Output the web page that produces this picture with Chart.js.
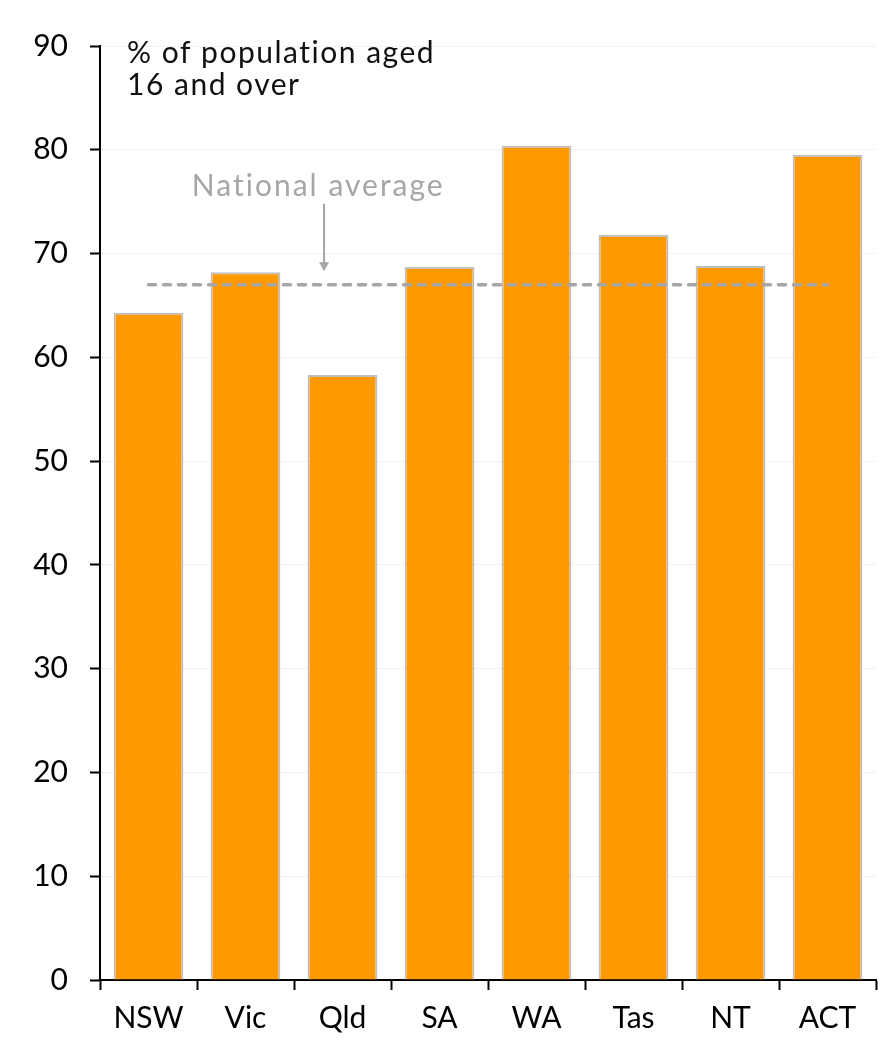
<!DOCTYPE html>
<html>
<head>
<meta charset="utf-8">
<script src="https://cdn.jsdelivr.net/npm/chart.js@4.4.0/dist/chart.umd.min.js"></script>
<style>
  body { margin: 0; background: #fff; }
  #wrap { width: 886px; height: 1048px; }
</style>
</head>
<body>
<div id="wrap"><canvas id="mycanvas" width="886" height="1048"></canvas></div>
<script>
var states = ['NSW', 'Vic', 'Qld', 'SA', 'WA', 'Tas', 'NT', 'ACT'];
var share = [64.3, 68.2, 58.3, 68.7, 80.4, 71.8, 68.8, 79.5];
var nationalAverage = [67.0, 67.0, 67.0, 67.0, 67.0, 67.0, 67.0, 67.0];
var yTicks = [0, 10, 20, 30, 40, 50, 60, 70, 80, 90];

var fontFamily = 'Lato, "DejaVu Sans", sans-serif';

// title text + "National average" arrow, placed with the chart's own scales
var notes = {
    id: 'notes',
    afterDatasetsDraw: function (chart) {
        var ctx = chart.ctx;
        var x = chart.scales.x;
        var y = chart.scales.y;
        var area = chart.chartArea;
        ctx.save();

        ctx.fillStyle = '#111';
        ctx.font = '30px ' + fontFamily;
        ctx.letterSpacing = '1.5px';
        ctx.textAlign = 'left';
        ctx.textBaseline = 'alphabetic';
        ctx.fillText('% of population aged', area.left + 27, area.top + 17);
        ctx.fillText('16 and over', area.left + 27, area.top + 49);

        ctx.fillStyle = '#a6a6a6';
        ctx.letterSpacing = '2px';
        ctx.textAlign = 'center';
        ctx.fillText('National average', x.getPixelForValue(1.75), y.getPixelForValue(75.5));
        ctx.letterSpacing = '0px';

        var ax = x.getPixelForValue(1.81);
        var y0 = y.getPixelForValue(74.8);
        var y1 = y.getPixelForValue(68.3);
        ctx.strokeStyle = '#a6a6a6';
        ctx.lineWidth = 2;
        ctx.beginPath();
        ctx.moveTo(ax, y0);
        ctx.lineTo(ax, y1 - 8);
        ctx.stroke();
        ctx.beginPath();
        ctx.moveTo(ax - 5, y1 - 9);
        ctx.lineTo(ax + 5, y1 - 9);
        ctx.lineTo(ax, y1);
        ctx.closePath();
        ctx.fill();

        ctx.restore();
    }
};

var chartdata = {
    labels: states,
    datasets: [{
        type: 'line',
        label: 'National average',
        data: nationalAverage,
        borderColor: '#a6a6a6',
        borderWidth: 3.5,
        borderDash: [7, 8],
        borderCapStyle: 'round',
        pointRadius: 0,
        fill: false,
        order: 0
    }, {
        type: 'bar',
        label: 'Share',
        data: share,
        backgroundColor: '#ff9900',
        borderColor: '#bfbfbf',
        borderWidth: 2,
        barPercentage: 0.72,
        categoryPercentage: 1,
        order: 1
    }]
};

var ctx = document.getElementById('mycanvas');

var barGraph = new Chart(ctx, {
    data: chartdata,
    options: {
        responsive: false,
        animation: false,
        layout: { padding: { top: 46, right: 10, left: 0, bottom: 0 } },
        plugins: {
            legend: { display: false },
            tooltip: { enabled: false }
        },
        scales: {
            x: {
                grid: {
                    offset: true,
                    drawOnChartArea: false,
                    drawTicks: true,
                    tickLength: 10,
                    tickColor: '#000',
                    tickWidth: 2
                },
                border: { color: '#000', width: 2 },
                ticks: {
                    color: '#000',
                    font: { family: fontFamily, size: 30 },
                    padding: 10
                },
                afterFit: function (scale) { scale.height = 68; }
            },
            y: {
                min: 0,
                max: 90,
                afterBuildTicks: function (scale) {
                    scale.ticks = yTicks.map(function (v) { return { value: v }; });
                },
                grid: {
                    color: '#f2f2f2',
                    drawTicks: true,
                    tickLength: 10,
                    tickColor: '#000',
                    tickWidth: 2
                },
                border: { color: '#000', width: 2 },
                ticks: {
                    color: '#000',
                    font: { family: fontFamily, size: 30 },
                    padding: 22
                },
                afterFit: function (scale) { scale.width = 100; }
            }
        }
    },
    plugins: [notes]
});
</script>
</body>
</html>
